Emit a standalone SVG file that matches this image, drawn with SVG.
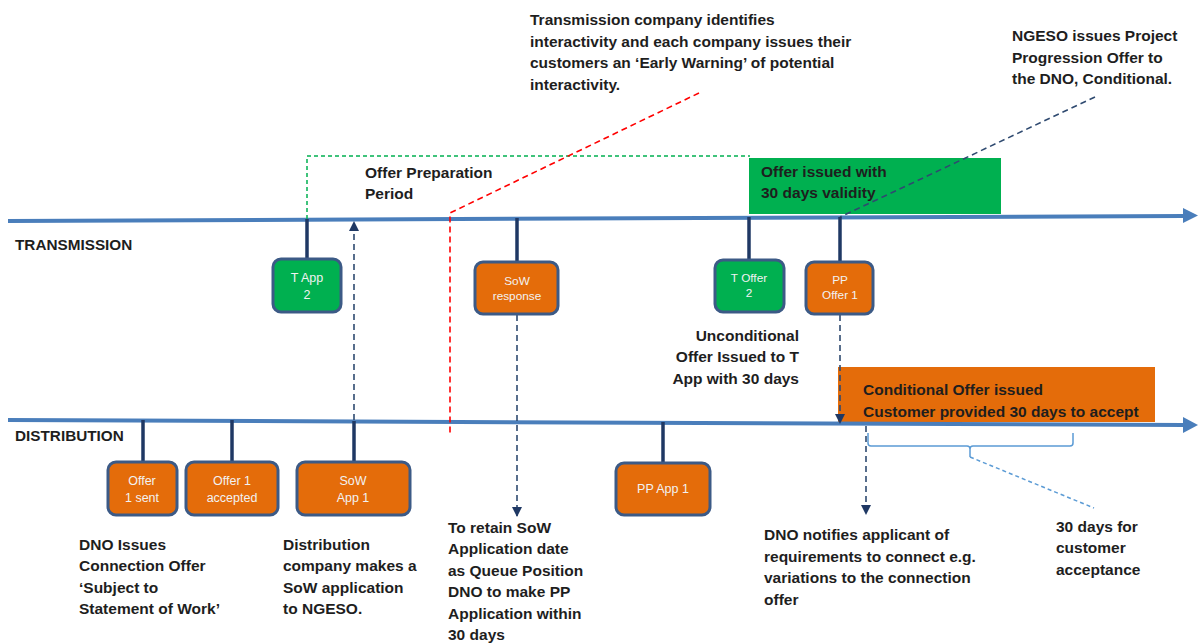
<svg xmlns="http://www.w3.org/2000/svg" width="1198" height="644" viewBox="0 0 1198 644">
<defs>
<style>
.lbl{font-family:"Liberation Sans",Arial,sans-serif;font-weight:bold;font-size:15.5px;fill:#1e1e1e}
.ax{font-family:"Liberation Sans",Arial,sans-serif;font-weight:bold;font-size:15.3px;fill:#1e1e1e}
.nt{font-family:"Liberation Sans",Arial,sans-serif;font-size:12.5px;fill:#f2f2f2;text-anchor:middle}
.ns{font-family:"Liberation Sans",Arial,sans-serif;font-size:11.8px;fill:#f2f2f2;text-anchor:middle}
.g{fill:#00b050;stroke:#3c5a86;stroke-width:3}
.o{fill:#e46c0a;stroke:#3c5a86;stroke-width:3}
.stem{stroke:#1f3864;stroke-width:3.5}
.tl{stroke:#4a7ebb;stroke-width:4;fill:none}
.dn{stroke:#2f4a70;stroke-width:1.6;stroke-dasharray:6,4;fill:none}
</style>
<marker id="ah" viewBox="0 0 10 10" refX="9" refY="5" markerWidth="10" markerHeight="10" markerUnits="userSpaceOnUse" orient="auto">
<path d="M0,0 L10,5 L0,10 Z" fill="#1f3864"/>
</marker>
</defs>
<rect width="1198" height="644" fill="#ffffff"/>

<!-- highlight boxes -->
<g id="green-box">
<rect x="749" y="158" width="252" height="56" fill="#00b050"/>
<text class="lbl" x="761" y="177">Offer issued with</text>
<text class="lbl" x="761" y="198">30 days validity</text>
</g>
<g id="orange-box">
<rect x="838" y="367" width="317" height="55" fill="#e46c0a"/>
<text class="lbl" x="863" y="395">Conditional  Offer issued</text>
<text class="lbl" x="863" y="417">Customer provided 30 days to accept</text>
</g>

<!-- timelines -->
<g id="timelines">
<line class="tl" x1="8" y1="221" x2="1184" y2="216"/>
<polygon points="1183,208 1198,215.5 1183,223" fill="#4a7ebb"/>
<line class="tl" x1="8" y1="420" x2="1184" y2="425"/>
<polygon points="1183,417 1198,425 1183,433" fill="#4a7ebb"/>
<text class="ax" x="15" y="250">TRANSMISSION</text>
<text class="ax" x="15" y="441">DISTRIBUTION</text>
</g>

<!-- connectors -->
<g id="connectors">
<polyline points="307,219 307,156 750,156" fill="none" stroke="#00b050" stroke-width="1.5" stroke-dasharray="4,3"/>
<polyline points="699,93 450,213 450,436" fill="none" stroke="#ff0000" stroke-width="1.6" stroke-dasharray="6,4"/>
<line x1="1095" y1="97" x2="840" y2="217" stroke="#2f4a70" stroke-width="1.6" stroke-dasharray="6,4"/>
<line class="dn" x1="354" y1="420" x2="354" y2="222" marker-end="url(#ah)"/>
<line class="dn" x1="517" y1="315" x2="517" y2="516" marker-end="url(#ah)"/>
<line class="dn" x1="840" y1="315" x2="840" y2="423" marker-end="url(#ah)"/>
<line class="dn" x1="866" y1="426" x2="866" y2="514" marker-end="url(#ah)"/>
<path d="M868,433 L868,443 Q868,446 871,446 L967,446 Q970,446 970,449 L970,457 L970,449 Q970,446 973,446 L1070,446 Q1073,446 1073,443 L1073,433" fill="none" stroke="#5b9bd5" stroke-width="1.5"/>
<line x1="970" y1="457" x2="1094" y2="508" stroke="#5b9bd5" stroke-width="1.5" stroke-dasharray="4,3"/>
</g>

<!-- transmission nodes -->
<g id="t-app-2">
<line class="stem" x1="307" y1="219" x2="307" y2="259"/>
<rect class="g" x="273" y="259" width="68" height="53" rx="8"/>
<text class="nt" x="307" y="282">T App</text>
<text class="nt" x="307" y="299">2</text>
</g>
<g id="sow-response">
<line class="stem" x1="517" y1="218" x2="517" y2="262"/>
<rect class="o" x="475" y="262" width="83" height="52" rx="8"/>
<text class="ns" x="517" y="285">SoW</text>
<text class="ns" x="517" y="300">response</text>
</g>
<g id="t-offer-2">
<line class="stem" x1="749" y1="217" x2="749" y2="260"/>
<rect class="g" x="715" y="260" width="69" height="52" rx="8"/>
<text class="ns" x="749" y="282">T Offer</text>
<text class="ns" x="749" y="297">2</text>
</g>
<g id="pp-offer-1">
<line class="stem" x1="840" y1="217" x2="840" y2="262"/>
<rect class="o" x="806" y="262" width="67" height="52" rx="8"/>
<text class="ns" x="840" y="284">PP</text>
<text class="ns" x="840" y="299">Offer 1</text>
</g>

<!-- distribution nodes -->
<g id="offer-1-sent">
<line class="stem" x1="143" y1="420" x2="143" y2="462"/>
<rect class="o" x="108" y="462" width="69" height="53" rx="8"/>
<text class="nt" x="142" y="485">Offer</text>
<text class="nt" x="142" y="502">1 sent</text>
</g>
<g id="offer-1-accepted">
<line class="stem" x1="232" y1="420" x2="232" y2="462"/>
<rect class="o" x="186" y="462" width="92" height="53" rx="8"/>
<text class="nt" x="232" y="485">Offer 1</text>
<text class="nt" x="232" y="502">accepted</text>
</g>
<g id="sow-app-1">
<line class="stem" x1="354" y1="421" x2="354" y2="462"/>
<rect class="o" x="297" y="462" width="113" height="53" rx="8"/>
<text class="nt" x="353" y="485">SoW</text>
<text class="nt" x="353" y="502">App 1</text>
</g>
<g id="pp-app-1">
<line class="stem" x1="663" y1="422" x2="663" y2="463"/>
<rect class="o" x="616" y="463" width="94" height="52" rx="8"/>
<text class="nt" x="663" y="493">PP App 1</text>
</g>

<!-- annotations -->
<g id="note-transmission">
<text class="lbl" x="530" y="25">Transmission  company identifies</text>
<text class="lbl" x="530" y="47">interactivity and each company issues their</text>
<text class="lbl" x="530" y="68">customers an ‘Early Warning’ of potential</text>
<text class="lbl" x="530" y="90">interactivity.</text>
</g>
<g id="note-ngeso">
<text class="lbl" x="1012" y="41">NGESO issues Project</text>
<text class="lbl" x="1012" y="63">Progression  Offer to</text>
<text class="lbl" x="1012" y="84">the DNO, Conditional.</text>
</g>
<g id="note-offer-prep">
<text class="lbl" x="365" y="178">Offer Preparation</text>
<text class="lbl" x="365" y="199">Period</text>
</g>
<g id="note-unconditional">
<text class="lbl" x="799" y="341" text-anchor="end">Unconditional</text>
<text class="lbl" x="799" y="362" text-anchor="end">Offer Issued to T</text>
<text class="lbl" x="799" y="384" text-anchor="end">App with 30 days</text>
</g>
<g id="note-dno-issues">
<text class="lbl" x="79" y="550">DNO Issues</text>
<text class="lbl" x="79" y="571">Connection Offer</text>
<text class="lbl" x="79" y="593">‘Subject to</text>
<text class="lbl" x="79" y="614">Statement of Work’</text>
</g>
<g id="note-distribution">
<text class="lbl" x="283" y="550">Distribution</text>
<text class="lbl" x="283" y="571">company makes a</text>
<text class="lbl" x="283" y="593">SoW application</text>
<text class="lbl" x="283" y="614">to NGESO.</text>
</g>
<g id="note-retain">
<text class="lbl" x="448" y="533">To retain SoW</text>
<text class="lbl" x="448" y="554">Application  date</text>
<text class="lbl" x="448" y="576">as Queue Position</text>
<text class="lbl" x="448" y="597">DNO to make PP</text>
<text class="lbl" x="448" y="619">Application  within</text>
<text class="lbl" x="448" y="640">30 days</text>
</g>
<g id="note-dno-notifies">
<text class="lbl" x="764" y="540">DNO notifies applicant of</text>
<text class="lbl" x="764" y="562">requirements  to connect e.g.</text>
<text class="lbl" x="764" y="583">variations  to the connection</text>
<text class="lbl" x="764" y="605">offer</text>
</g>
<g id="note-30days">
<text class="lbl" x="1056" y="532">30 days for</text>
<text class="lbl" x="1056" y="553">customer</text>
<text class="lbl" x="1056" y="575">acceptance</text>
</g>
</svg>
